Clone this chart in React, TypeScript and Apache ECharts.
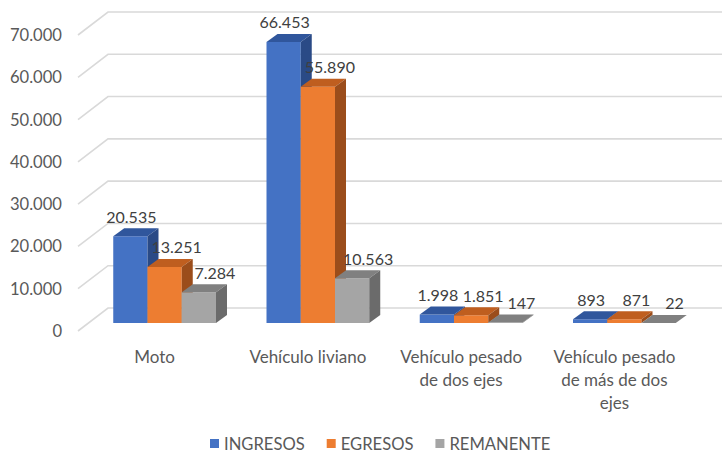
import React, { useEffect, useRef } from "react";
import * as echarts from "echarts";

const categories = [
  "Moto",
  "Vehículo liviano",
  "Vehículo pesado\nde dos ejes",
  "Vehículo pesado\nde más de dos\nejes",
];
const seriesNames = ["INGRESOS", "EGRESOS", "REMANENTE"];
const ingresos = [20535, 66453, 1998, 893];
const egresos = [13251, 55890, 1851, 871];
const remanente = [7284, 10563, 147, 22];
const yTicks = [0, 10000, 20000, 30000, 40000, 50000, 60000, 70000];

const frontColors = ["#4472C4", "#ED7D31", "#A5A5A5"];
const topColors = ["#30569C", "#BF5E1F", "#808080"];
const sideColors = ["#2A4A86", "#9B4D1B", "#6B6B6B"];
const labelShift = [1, 12, 16];

const FONT = "Lato, 'Open Sans', sans-serif";

const fmt = (v: number) =>
  String(v).replace(/\B(?=(\d{3})+(?!\d))/g, ".");

const DEPTH_X = 11;
const DEPTH_Y = -8;
const FRONT_SHIFT_X = 10;
const FRONT_SHIFT_Y = -8;
const WALL_X = 30;
const WALL_Y = -23;

function barSeries(idx: number, values: number[]) {
  return {
    name: seriesNames[idx],
    type: "custom",
    itemStyle: { color: frontColors[idx] },
    data: values.map((v, i) => [i, v]),
    encode: { x: 0, y: 1 },
    z: 3,
    renderItem: (params: any, api: any) => {
      const ci = api.value(0);
      const val = api.value(1);
      const base = api.coord([ci, 0]);
      const top = api.coord([ci, val]);
      const bandW = api.size([1, 0])[0];
      const barW = bandW * 0.2235;
      const xl = base[0] - 1.5 * barW + idx * barW + FRONT_SHIFT_X;
      const baseY = base[1] + FRONT_SHIFT_Y;
      const topY = top[1] + FRONT_SHIFT_Y;
      const xr = xl + barW;
      return {
        type: "group",
        children: [
          {
            type: "rect",
            shape: { x: xl, y: topY, width: barW, height: Math.max(baseY - topY, 0.01) },
            style: { fill: frontColors[idx] },
          },
          {
            type: "polygon",
            shape: {
              points: [
                [xl, topY],
                [xl + DEPTH_X, topY + DEPTH_Y],
                [xr + DEPTH_X, topY + DEPTH_Y],
                [xr, topY],
              ],
            },
            style: { fill: topColors[idx] },
          },
          {
            type: "polygon",
            shape: {
              points: [
                [xr, topY],
                [xr + DEPTH_X, topY + DEPTH_Y],
                [xr + DEPTH_X, baseY + DEPTH_Y],
                [xr, baseY],
              ],
            },
            style: { fill: sideColors[idx] },
          },
          {
            type: "text",
            z2: 10,
            style: {
              x: xl + barW / 2 + labelShift[idx],
              y: topY - 20,
              text: fmt(val),
              fill: "#404040",
              font: `16px ${FONT}`,
              align: "center",
              verticalAlign: "middle",
            },
          },
        ],
      };
    },
  };
}

export default function App() {
  const ref = useRef<HTMLDivElement>(null);
  useEffect(() => {
    if (!ref.current) return;
    const chart = echarts.init(ref.current, undefined, { renderer: "svg" });
    chart.setOption({
      animation: false,
      backgroundColor: "#ffffff",
      textStyle: { fontFamily: FONT },
      grid: { left: 78, right: 31, top: 35, bottom: 129, containLabel: false },
      legend: {
        data: seriesNames.map((n) => ({ name: n, icon: "rect" })),
        left: 205,
        bottom: 3,
        itemWidth: 9,
        itemHeight: 9,
        itemGap: 22,
        textStyle: { color: "#595959", fontSize: 16.6, fontFamily: FONT },
      },
      xAxis: {
        type: "category",
        data: categories,
        axisLine: { show: false },
        axisTick: { show: false },
        splitLine: { show: false },
        axisLabel: {
          color: "#595959",
          fontSize: 17,
          lineHeight: 23,
          margin: 14,
          interval: 0,
          fontFamily: FONT,
        },
      },
      yAxis: {
        type: "value",
        min: 0,
        max: 70000,
        interval: 10000,
        axisLine: { show: false },
        axisTick: { show: false },
        splitLine: { show: false },
        axisLabel: {
          color: "#595959",
          fontSize: 16.6,
          margin: 16,
          fontFamily: FONT,
          formatter: (v: number) => fmt(v),
        },
      },
      series: [
        {
          name: "grid3d",
          type: "custom",
          silent: true,
          z: 1,
          data: yTicks.map((v) => [0, v]),
          encode: { x: 0, y: 1 },
          renderItem: (params: any, api: any) => {
            const cs = params.coordSys;
            const p = api.coord([0, api.value(1)]);
            const y = p[1];
            return {
              type: "polyline",
              shape: {
                points: [
                  [cs.x, y],
                  [cs.x + WALL_X, y + WALL_Y],
                  [cs.x + cs.width + WALL_X + 10, y + WALL_Y],
                ],
              },
              style: { stroke: "#D9D9D9", lineWidth: 1.6, fill: "none" },
            };
          },
        },
        barSeries(0, ingresos),
        barSeries(1, egresos),
        barSeries(2, remanente),
      ],
    });
    return () => chart.dispose();
  }, []);
  return (
    <div
      ref={ref}
      style={{ position: "fixed", left: 0, top: 0, width: 722, height: 460 }}
    />
  );
}
